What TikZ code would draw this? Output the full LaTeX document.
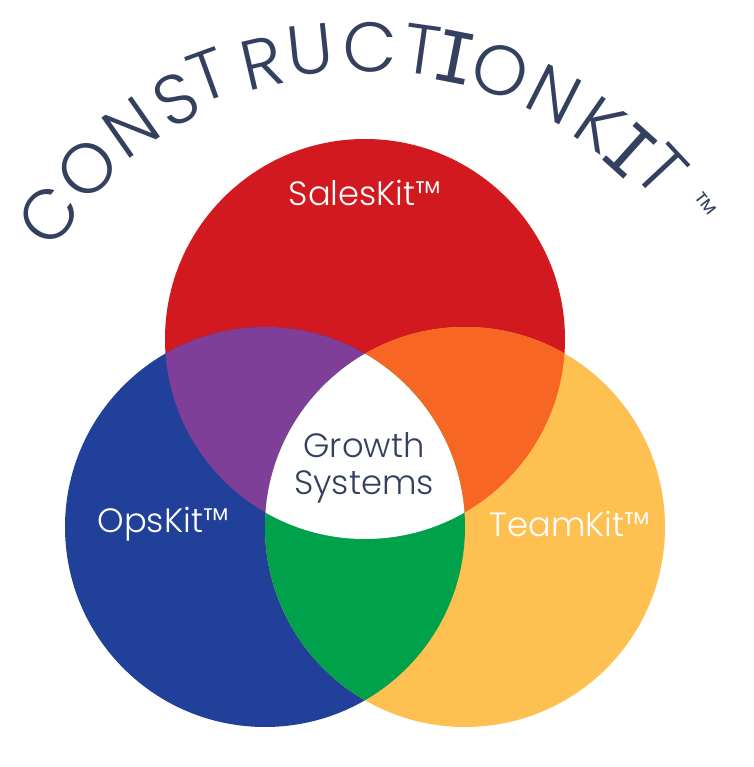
\documentclass[tikz,border=0pt]{standalone}
\usepackage{fontspec}
\setmainfont{Poppins Light}
\newfontfamily\serifletter{DejaVu Sans Mono}
\usetikzlibrary{positioning}
\definecolor{kitred}{HTML}{D2191F}
\definecolor{kitblue}{HTML}{21409A}
\definecolor{kityellow}{HTML}{FFC052}
\definecolor{kitpurple}{HTML}{7F3F98}
\definecolor{kitorange}{HTML}{F76723}
\definecolor{kitgreen}{HTML}{00A14B}
\definecolor{kitslate}{HTML}{34405F}
\tikzset{
  titleletter/.style={text=kitslate, inner sep=0pt, outer sep=0pt, font=\fontsize{20}{20}\selectfont},
  kitlabel/.style={text=white, inner sep=0pt, font=\fontsize{9.6}{11}\selectfont},
  corelabel/.style={text=kitslate, inner sep=0pt, align=center, font=\fontsize{9.6}{10.5}\selectfont}
}
\begin{document}
\begin{tikzpicture}
\useasboundingbox (0,0) rectangle (7.54,7.67);
\fill[kitred] (3.65,4.28) circle (2);
\fill[kitblue] (2.65,2.40) circle (2);
\fill[kityellow] (4.65,2.40) circle (2);

\begin{scope}
\clip (3.65,4.28) circle (2);
\fill[kitpurple] (2.65,2.40) circle (2);
\fill[kitorange] (4.65,2.40) circle (2);
\end{scope}
\begin{scope}
\clip (2.65,2.40) circle (2);
\fill[kitgreen] (4.65,2.40) circle (2);
\clip (4.65,2.40) circle (2);
\fill[white] (3.65,4.28) circle (2);
\end{scope}

\node[kitlabel] (sales) at (3.65,5.74) {SalesKit™};
\node[kitlabel] (ops) at (1.63,2.43) {OpsKit™};
\node[kitlabel] (team) at (5.70,2.43) {TeamKit™};
\node[corelabel] (core) at (3.64,2.99) {Growth\\Systems};

\node[titleletter, rotate=52] (c1) at (0.49,5.52) {C};
\node[titleletter, rotate=44] (o1) at (0.87,5.98) {O};
\node[titleletter, rotate=35] (n1) at (1.31,6.39) {N};
\node[titleletter, rotate=27] (s1) at (1.76,6.68) {S};
\node[titleletter, rotate=20] (t1) at (2.08,6.92) {T};
\node[titleletter, rotate=13] (r1) at (2.62,7.04) {R};
\node[titleletter, rotate=6] (u1) at (3.10,7.17) {U};
\node[titleletter, rotate=-1] (c2) at (3.70,7.20) {C};
\node[titleletter, rotate=-8] (t2) at (4.22,7.17) {T};
\node[titleletter, rotate=-11, font=\fontsize{20}{20}\serifletter] (i1) at (4.55,7.10) {I};
\node[titleletter, rotate=-18] (o2) at (5.00,6.96) {O};
\node[titleletter, rotate=-27] (n2) at (5.54,6.72) {N};
\node[titleletter, rotate=-35] (k1) at (6.00,6.42) {K};
\node[titleletter, rotate=-42, font=\fontsize{20}{20}\serifletter] (i2) at (6.30,6.16) {I};
\node[titleletter, rotate=-47] (t3) at (6.62,5.97) {T};
\node[titleletter, rotate=-52, font=\fontsize{9}{9}\selectfont] (tm) at (7.02,5.60) {™};
\end{tikzpicture}
\end{document}
